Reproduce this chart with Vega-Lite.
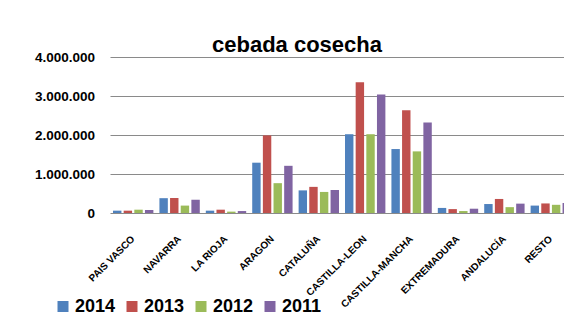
{
  "$schema": "https://vega.github.io/schema/vega-lite/v6.json",
  "autosize": "none",
  "width": 454,
  "height": 156,
  "padding": {"left": 110, "top": 57, "right": 0, "bottom": 102},
  "background": "white",
  "title": {"text": "cebada cosecha", "font": "Liberation Sans", "fontSize": 22, "fontWeight": "bold", "color": "#000000", "anchor": "middle", "dx": -40, "dy": 28, "baseline": "alphabetic", "offset": 4},
  "data": {"values": [
    {"region": "PAIS VASCO", "year": "2014", "t": 60000},
    {"region": "PAIS VASCO", "year": "2013", "t": 60000},
    {"region": "PAIS VASCO", "year": "2012", "t": 85000},
    {"region": "PAIS VASCO", "year": "2011", "t": 80000},
    {"region": "NAVARRA", "year": "2014", "t": 380000},
    {"region": "NAVARRA", "year": "2013", "t": 385000},
    {"region": "NAVARRA", "year": "2012", "t": 190000},
    {"region": "NAVARRA", "year": "2011", "t": 340000},
    {"region": "LA RIOJA", "year": "2014", "t": 60000},
    {"region": "LA RIOJA", "year": "2013", "t": 85000},
    {"region": "LA RIOJA", "year": "2012", "t": 35000},
    {"region": "LA RIOJA", "year": "2011", "t": 50000},
    {"region": "ARAGON", "year": "2014", "t": 1290000},
    {"region": "ARAGON", "year": "2013", "t": 1990000},
    {"region": "ARAGON", "year": "2012", "t": 765000},
    {"region": "ARAGON", "year": "2011", "t": 1210000},
    {"region": "CATALUÑA", "year": "2014", "t": 580000},
    {"region": "CATALUÑA", "year": "2013", "t": 670000},
    {"region": "CATALUÑA", "year": "2012", "t": 540000},
    {"region": "CATALUÑA", "year": "2011", "t": 590000},
    {"region": "CASTILLA-LEON", "year": "2014", "t": 2020000},
    {"region": "CASTILLA-LEON", "year": "2013", "t": 3350000},
    {"region": "CASTILLA-LEON", "year": "2012", "t": 2020000},
    {"region": "CASTILLA-LEON", "year": "2011", "t": 3040000},
    {"region": "CASTILLA-MANCHA", "year": "2014", "t": 1640000},
    {"region": "CASTILLA-MANCHA", "year": "2013", "t": 2635000},
    {"region": "CASTILLA-MANCHA", "year": "2012", "t": 1580000},
    {"region": "CASTILLA-MANCHA", "year": "2011", "t": 2320000},
    {"region": "EXTREMADURA", "year": "2014", "t": 130000},
    {"region": "EXTREMADURA", "year": "2013", "t": 100000},
    {"region": "EXTREMADURA", "year": "2012", "t": 50000},
    {"region": "EXTREMADURA", "year": "2011", "t": 110000},
    {"region": "ANDALUCÍA", "year": "2014", "t": 230000},
    {"region": "ANDALUCÍA", "year": "2013", "t": 360000},
    {"region": "ANDALUCÍA", "year": "2012", "t": 150000},
    {"region": "ANDALUCÍA", "year": "2011", "t": 240000},
    {"region": "RESTO", "year": "2014", "t": 190000},
    {"region": "RESTO", "year": "2013", "t": 245000},
    {"region": "RESTO", "year": "2012", "t": 210000},
    {"region": "RESTO", "year": "2011", "t": 255000}
  ]},
  "mark": {"type": "bar", "clip": true},
  "encoding": {
    "x": {
      "field": "region", "type": "nominal", "sort": null,
      "scale": {"range": [0, 464], "paddingInner": 0.13, "paddingOuter": 0.065},
      "axis": {"title": null, "domain": false, "ticks": false, "labelAngle": -45, "labelAlign": "right", "labelBaseline": "middle", "labelPadding": 24, "labelFont": "Liberation Sans", "labelFontSize": 10, "labelFontWeight": "bold", "labelColor": "#000000", "labelOverlap": false}
    },
    "xOffset": {"field": "year", "type": "nominal", "sort": ["2014", "2013", "2012", "2011"], "scale": {"paddingInner": 0.21, "paddingOuter": 0}},
    "y": {
      "field": "t", "type": "quantitative",
      "scale": {"domain": [0, 4000000], "nice": false},
      "axis": {"title": null, "values": [0, 1000000, 2000000, 3000000, 4000000], "format": ",.0f", "domain": false, "ticks": false, "labelPadding": 15.5, "labelFont": "Liberation Sans", "labelFontSize": 13.5, "labelFontWeight": "bold", "labelColor": "#000000", "grid": true, "gridColor": "#8a8a8a", "gridWidth": 1.2, "gridOpacity": 1}
    },
    "color": {
      "field": "year", "type": "nominal",
      "scale": {"domain": ["2014", "2013", "2012", "2011"], "range": ["#4F81BD", "#C0504D", "#9BBB59", "#8064A2"]},
      "legend": {"title": null, "orient": "none", "direction": "horizontal", "legendX": -56, "legendY": 240.5, "symbolType": "square", "symbolSize": 121, "symbolStrokeWidth": 0, "labelOffset": 3, "columnPadding": 7, "padding": 0, "labelFont": "Liberation Sans", "labelFontSize": 18, "labelFontWeight": "bold", "labelColor": "#000000"}
    }
  },
  "config": {
    "locale": {"number": {"decimal": ",", "thousands": ".", "grouping": [3], "currency": ["", " €"]}},
    "view": {"stroke": null}
  }
}
